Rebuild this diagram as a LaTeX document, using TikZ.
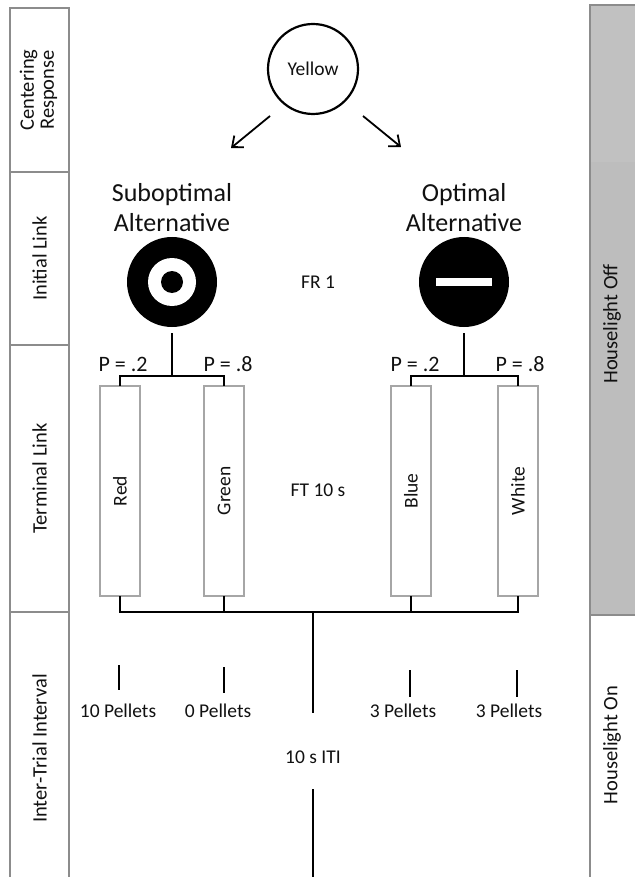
\documentclass[tikz,border=0pt]{standalone}
\usepackage{fontspec}
\setmainfont{Carlito}
\usetikzlibrary{arrows.meta,calc}
\definecolor{txt}{HTML}{111111}
\definecolor{boxgray}{HTML}{A6A6A6}
\definecolor{colgray}{HTML}{8C8C8C}
\definecolor{offgray}{HTML}{BDBDBD}
\definecolor{offtop}{HTML}{C1C1C1}
\begin{document}
\begin{tikzpicture}[x=1pt,y=-1pt,
  every node/.style={text=txt, inner sep=0pt, outer sep=0pt},
  conn/.style={draw=black, line width=2.4pt},
  arr/.style={draw=black, line width=1.8pt, -{Straight Barb[length=9pt,width=15pt,line width=1.8pt]}},
  cell/.style={draw=colgray, line width=1.2pt, minimum width=59pt, font=\fontsize{20.5}{22}\selectfont},
  tbox/.style={draw=boxgray, line width=1.3pt, fill=white, minimum width=40pt, minimum height=210pt, font=\fontsize{19.5}{22}\selectfont},
  lab/.style={font=\fontsize{19.5}{22}\selectfont},
  plab/.style={font=\fontsize{22}{24}\selectfont},
  ttl/.style={font=\fontsize{26}{30}\selectfont, align=center},
  side/.style={font=\fontsize{20.5}{22}\selectfont}
]
\useasboundingbox (0,0) rectangle (634,877);
\fill[white] (0,0) rectangle (634,877);

% left stage column
\node[cell, minimum height=164pt] (c1) at (39.5,90) {\rotatebox{90}{\begin{tabular}{@{}c@{}}Centering\\[-2pt]Response\end{tabular}}};
\node[cell, minimum height=173pt] (c2) at (39.5,258.5) {\rotatebox{90}{Initial Link}};
\node[cell, minimum height=267pt] (c3) at (39.5,478.5) {\rotatebox{90}{Terminal Link}};
\node[cell, minimum height=273pt] (c4) at (39.5,748.5) {\rotatebox{90}{Inter-Trial Interval}};

% right houselight column
\node[draw=colgray, line width=1.2pt, fill=offgray, minimum width=50pt, minimum height=610pt] (hoff) at (615,310) {};
\fill[offtop] (590.8,5.8) rectangle (640,162);
\node[draw=colgray, line width=1.2pt, fill=white, minimum width=50pt, minimum height=270pt] (hon) at (615,750) {};
\node[side] (hofft) at (612,324) {\rotatebox{90}{Houselight Off}};
\node[side] (hont) at (612,745) {\rotatebox{90}{Houselight On}};

% centering response
\node[circle, draw=black, line width=2.2pt, minimum size=90pt, lab] (yel) at (313,69) {Yellow};
\coordinate (a1s) at (270,116);
\coordinate (a1e) at (231,148);
\coordinate (a2s) at (363,116);
\coordinate (a2e) at (401,147);
\draw[arr] (a1s) -- (a1e);
\draw[arr] (a2s) -- (a2e);

% initial link
\node[ttl] (subt) at (172,208) {Suboptimal\\Alternative};
\node[ttl] (optt) at (464,208) {Optimal\\Alternative};
\node[circle, fill=black, minimum size=90pt] (sub) at (172,282) {};
\node[circle, fill=white, minimum size=48pt] (subw) at (sub) {};
\node[circle, fill=black, minimum size=22pt] (subd) at (sub) {};
\node[circle, fill=black, minimum size=90pt] (opt) at (464,282) {};
\node[fill=white, minimum width=56pt, minimum height=8pt] (optbar) at (opt) {};
\node[lab] (fr) at (318,282) {FR 1};

% terminal link boxes
\node[tbox] (red) at (120,491) {\rotatebox{90}{Red}};
\node[tbox] (green) at (224,491) {\rotatebox{90}{Green}};
\node[tbox] (blue) at (411,491) {\rotatebox{90}{Blue}};
\node[tbox] (white) at (518,491) {\rotatebox{90}{White}};
\node[lab] (ft) at (318,490) {FT 10 s};

\node[plab] (p1) at (123,364) {P = .2};
\node[plab] (p2) at (228,364) {P = .8};
\node[plab] (p3) at (415,364) {P = .2};
\node[plab] (p4) at (520,364) {P = .8};

% brackets from alternatives to boxes
\coordinate (sj) at (172,376);
\coordinate (oj) at (464,376);
\draw[conn, shorten <=6pt] (sub.south) -- (sj);
\draw[conn, shorten <=6pt] (opt.south) -- (oj);
\draw[conn] (red.north) |- (sj) -| (green.north);
\draw[conn] (blue.north) |- (oj) -| (white.north);

% bottom bracket
\coordinate (bj) at (313,612);
\coordinate (l1e) at (313,713);
\draw[conn] (red.south) |- (bj);
\draw[conn] (green.south) |- (bj);
\draw[conn] (blue.south) |- (bj);
\draw[conn] (white.south) |- (bj);
\draw[conn, line width=2.7pt] (bj) -- (l1e);

% outcomes
\coordinate (t1a) at (119,665); \coordinate (t1b) at (119,690);
\coordinate (t2a) at (224,667); \coordinate (t2b) at (224,693);
\coordinate (t3a) at (410,670); \coordinate (t3b) at (410,697);
\coordinate (t4a) at (517,670); \coordinate (t4b) at (517,697);
\draw[conn] (t1a) -- (t1b);
\draw[conn] (t2a) -- (t2b);
\draw[conn] (t3a) -- (t3b);
\draw[conn] (t4a) -- (t4b);
\node[lab] (o1) at (118,711) {10 Pellets};
\node[lab] (o2) at (218,711) {0 Pellets};
\node[lab] (o3) at (403,711) {3 Pellets};
\node[lab] (o4) at (509,711) {3 Pellets};

% ITI
\node[lab] (iti) at (313,757) {10 s ITI};
\coordinate (l2s) at (313,789);
\coordinate (l2e) at (313,880);
\draw[conn, line width=2.7pt] (l2s) -- (l2e);
\end{tikzpicture}
\end{document}
